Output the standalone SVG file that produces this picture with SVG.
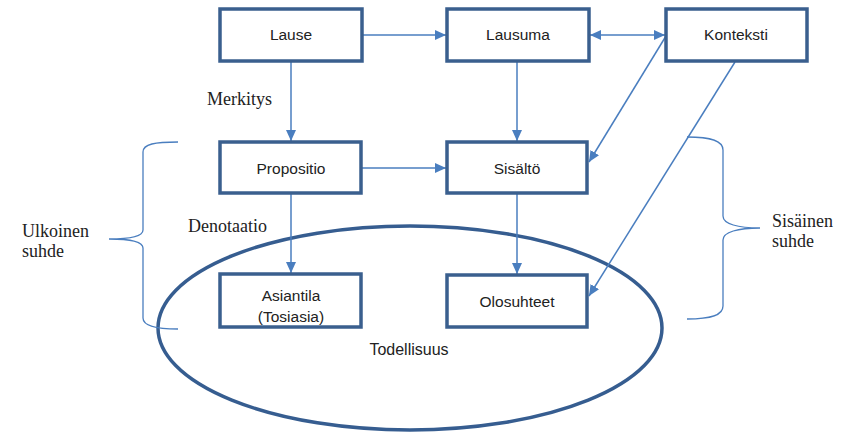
<svg xmlns="http://www.w3.org/2000/svg" width="850" height="433" viewBox="0 0 850 433">
<style>
.box{fill:#fff;stroke:#3a5f8e;stroke-width:3.5}
.lbl{font-family:"Liberation Sans",Arial,sans-serif;font-size:15.5px;fill:#222;text-anchor:middle}
.big{font-size:16px}
.ser{font-family:"Liberation Serif","DejaVu Serif",serif;font-size:18px;fill:#222}
.con{fill:none;stroke:#4a7ebf;stroke-width:1.5}
.brace{fill:none;stroke:#4a7ebf;stroke-width:1.3}
</style>
<defs>
<marker id="ah" markerUnits="userSpaceOnUse" markerWidth="12" markerHeight="12" viewBox="0 0 12 12" refX="11" refY="6" orient="auto-start-reverse">
<path d="M0,1 L11,6 L0,11 Z" fill="#4a7ebf"/>
</marker>
</defs>
<ellipse cx="410" cy="328" rx="252" ry="102" fill="none" stroke="#365d90" stroke-width="3.5"/>
<g id="connectors">
<line class="con" x1="362" y1="35" x2="446" y2="35" marker-end="url(#ah)"/>
<line class="con" x1="590" y1="35" x2="665" y2="35" marker-start="url(#ah)" marker-end="url(#ah)"/>
<line class="con" x1="291" y1="62" x2="291" y2="141" marker-end="url(#ah)"/>
<line class="con" x1="517" y1="62" x2="517" y2="141" marker-end="url(#ah)"/>
<line class="con" x1="362" y1="168" x2="446" y2="168" marker-end="url(#ah)"/>
<line class="con" x1="666" y1="36" x2="589" y2="162" marker-end="url(#ah)"/>
<line class="con" x1="735" y1="62" x2="589" y2="296" marker-end="url(#ah)"/>
<line class="con" x1="291" y1="194" x2="291" y2="273" marker-end="url(#ah)"/>
<line class="con" x1="517" y1="194" x2="517" y2="274" marker-end="url(#ah)"/>
</g>
<g id="braces">
<path class="brace" d="M178,142 C155,142 143,144 143,152 L143,230 C143,236 130,239 109,239 C130,239 143,242 143,248 L143,318 C143,326 155,329 178,329"/>
<path class="brace" d="M687,137 C712,137 723,141 723,150 L723,216 C723,224 738,228 760,228 C738,228 723,232 723,240 L723,306 C723,315 712,319 687,319"/>
</g>
<g id="lause"><rect class="box" x="220" y="9" width="142" height="52"/><text class="lbl" x="291" y="40">Lause</text></g>
<g id="lausuma"><rect class="box" x="447" y="9" width="142" height="52"/><text class="lbl" x="518" y="40">Lausuma</text></g>
<g id="konteksti"><rect class="box" x="666" y="9" width="141" height="52"/><text class="lbl" x="736" y="40">Konteksti</text></g>
<g id="propositio"><rect class="box" x="220" y="142" width="141" height="51"/><text class="lbl" x="291" y="174">Propositio</text></g>
<g id="sisalto"><rect class="box" x="447" y="142" width="140" height="51"/><text class="lbl" x="517" y="174">Sisältö</text></g>
<g id="asiantila"><rect class="box" x="220" y="274" width="141" height="53"/><text class="lbl" x="291" y="301">Asiantila</text><text class="lbl" x="291" y="322">(Tosiasia)</text></g>
<g id="olosuhteet"><rect class="box" x="447" y="275" width="140" height="52"/><text class="lbl" x="517" y="307">Olosuhteet</text></g>
<g id="labels">
<text class="ser" x="207" y="105">Merkitys</text>
<text class="ser" x="188" y="232">Denotaatio</text>
<text class="ser" x="22" y="237">Ulkoinen</text>
<text class="ser" x="22" y="257">suhde</text>
<text class="ser" x="772" y="227">Sisäinen</text>
<text class="ser" x="772" y="247">suhde</text>
<text class="lbl big" x="409" y="355">Todellisuus</text>
</g>
</svg>
